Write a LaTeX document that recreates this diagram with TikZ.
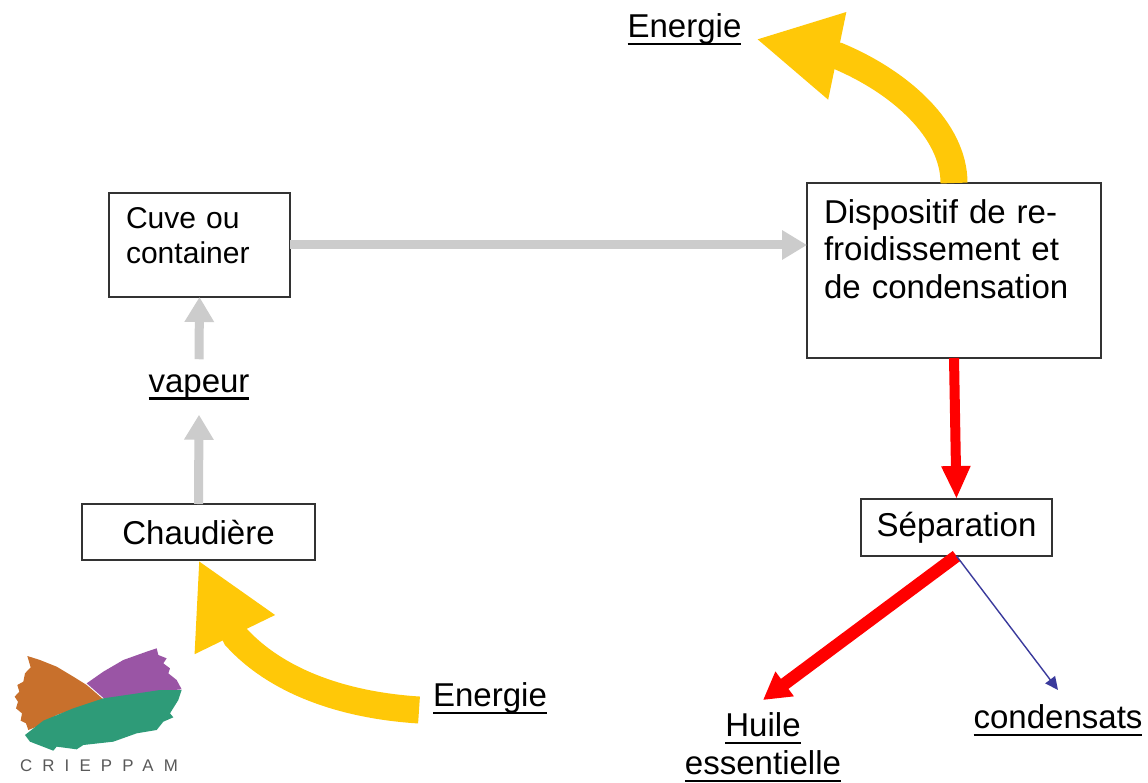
\documentclass[tikz,border=0pt]{standalone}
\usepackage{fontspec}
\setmainfont{Liberation Sans}
\newfontfamily\logofont[LetterSpace=60]{Liberation Sans}
\usetikzlibrary{arrows.meta}
\definecolor{jaune}{HTML}{FFC808}
\definecolor{logoorange}{HTML}{C8702C}
\definecolor{logoviolet}{HTML}{9A55A5}
\definecolor{logovert}{HTML}{2E9B78}
\definecolor{bleufin}{HTML}{3A3A9C}
\newcommand{\souligne}[1]{\leavevmode\setbox0\hbox{#1}\dp0=0pt\vtop{\box0\kern3.1pt\hrule height 1.3pt}}
\begin{document}
\begin{tikzpicture}[x=.02cm,y=-.02cm,
    boite/.style={draw=black!80,line width=.03cm,fill=white,outer sep=0,inner sep=0,align=center,font=\fontsize{18.8}{21.6}\selectfont},
    etiquette/.style={inner sep=.2cm,outer sep=0,align=center,font=\fontsize{18.8}{21.6}\selectfont},
    fleche gris/.style={draw=black!20,line width=.18cm,-{Triangle[width=.56cm,length=.5cm]}},
    fleche rouge/.style={draw=red,line width=.2cm,-{Triangle[width=.54cm,length=.66cm]}},
    fleche jaune/.style={draw=jaune,line width=.54cm,-{Triangle[width=1.66cm,length=1.66cm]}}]
  \useasboundingbox[fill=white] (0,0) rectangle (1148,783);

  \node[boite,minimum width=3.62cm,minimum height=2.08cm,text width=2.94cm,align=left,font=\fontsize{17.1}{20}\selectfont] (cuve) at (199.5,245) {Cuve ou\\container\\[-.34cm]\mbox{}};
  \node[boite,minimum width=5.88cm,minimum height=3.5cm,text width=5.2cm,align=left] (dispositif) at (954,270.5) {Dispositif de re-\\froidissement et\\de condensation\\[.1cm]\mbox{}};
  \node[boite,minimum width=3.82cm,minimum height=1.14cm] (separation) at (956.5,527.5) {Séparation};
  \node[boite,minimum width=4.66cm,minimum height=1.12cm] (chaudiere) at (198.5,532) {Chaudière};

  \node[etiquette,inner sep=.3cm] (vapeur) at (199,387) {\souligne{vapeur}};
  \node[etiquette] (energiehaut) at (684.5,29) {\souligne{Energie}};
  \node[etiquette] (energiebas) at (490,698) {\souligne{Energie}};
  \node[etiquette] (huile) at (763,747.5) {\souligne{Huile}\\\souligne{essentielle}};
  \node[etiquette] (condensats) at (1058,720) {\souligne{condensats}};

  \coordinate (sortiebas) at (419,710);
  \coordinate (pointehaut) at (756,39);
  \coordinate (pointehuile) at (763,700);
  \coordinate (pointecond) at (1058,690);

  \draw[fleche gris] (chaudiere.north) -- (vapeur.south);
  \draw[fleche gris] (vapeur.north) -- (cuve.south);
  \draw[fleche gris] (cuve.east) -- (cuve.east -| dispositif.west);

  \draw[fleche rouge] (dispositif.south) -- (separation.north);
  \draw[fleche rouge,line width=.25cm,-{Triangle[width=.58cm,length=.54cm]}] (separation.south) -- (pointehuile);
  \draw[draw=bleufin,line width=.028cm,-{Triangle[width=.24cm,length=.26cm]}] (separation.south) -- (pointecond);

  \draw[fleche jaune] (dispositif.north) .. controls (954,130) and (900,82) .. (838,56) -- (pointehaut);
  \draw[fleche jaune] (sortiebas) .. controls (340,705) and (275,680) .. (236,637) -- (chaudiere.south);

  \begin{scope}[shift={(0,630)},x=.00667cm,y=-.00667cm]
    \fill[logoorange] (82,78) -- (120,90) -- (170,110) -- (220,140) -- (260,165) -- (310,208) -- (230,235) -- (170,255) -- (110,290) -- (85,300) -- (78,280) -- (62,272) -- (66,250) -- (48,235) -- (54,215) -- (44,200) -- (58,185) -- (52,165) -- (70,155) -- (75,130) -- (92,112) -- cycle;
    \fill[logoviolet] (260,160) -- (310,125) -- (370,90) -- (440,65) -- (470,55) -- (475,75) -- (500,85) -- (490,100) -- (510,115) -- (505,130) -- (530,150) -- (545,178) -- (470,185) -- (400,195) -- (315,208) -- cycle;
    \fill[logovert] (545,180) -- (535,210) -- (510,250) -- (520,262) -- (490,275) -- (470,300) -- (410,310) -- (340,335) -- (250,345) -- (230,358) -- (170,350) -- (160,362) -- (90,335) -- (75,315) -- (130,272) -- (220,235) -- (310,205) -- (400,192) -- (480,180) -- cycle;
  \end{scope}
  \node[inner sep=0,text=black!65,font=\logofont\fontsize{9.6}{11}\selectfont] (logo) at (99,766) {CRIEPPAM};
\end{tikzpicture}
\end{document}
